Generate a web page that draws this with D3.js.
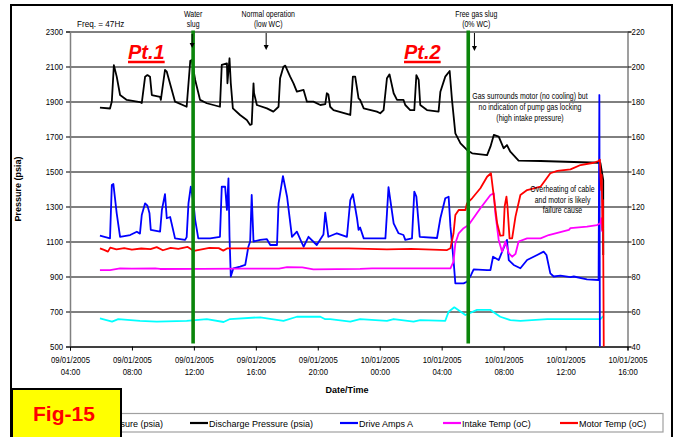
<!DOCTYPE html>
<html>
<head>
<meta charset="utf-8">
<script src="https://cdn.jsdelivr.net/npm/d3@7"></script>
<style>
  body { margin: 0; background: #fff; }
  svg text { font-family: "Liberation Sans", Arial, sans-serif; }
</style>
</head>
<body>
<svg id="chart" width="678" height="437"></svg>
<script>
// time is given in hours counted from 09/01/2005 00:00
const seriesNames = ['Intake Pressure (psia)', 'Discharge Pressure (psia)', 'Drive Amps A', 'Intake Temp (oC)', 'Motor Temp (oC)'];
const seriesColors = ['#00ffff', '#000000', '#0000ff', '#ff00ff', '#ff0000'];

const intakePressure = [[5.94,661],[6.71,642],[7.12,656],[8.52,646],[9.60,642],[11.54,646],[12.83,656],[13.91,640],[14.34,657],[16.28,667],[17.79,646],[18.65,670],[20.16,670],[20.48,656],[20.80,656],[22.10,642],[22.74,657],[24.47,646],[24.90,657],[26.19,642],[26.62,651],[28.24,647],[28.45,699],[28.82,724],[29.53,680],[30.29,709],[31.15,709],[31.79,670],[32.44,651],[33.08,647],[34.81,657],[38.25,657],[38.43,674]];

const dischargePressure = [[5.94,1865],[6.59,1860],[6.70,1900],[6.84,2108],[7.02,2042],[7.23,1937],[7.66,1909],[8.52,1897],[8.63,1891],[8.85,2042],[9.00,2051],[9.17,2042],[9.28,1937],[9.82,1927],[9.86,1909],[10.14,2080],[10.25,2070],[10.79,1899],[11.54,1870],[11.76,2133],[11.87,2137],[12.08,2023],[12.40,1909],[12.83,1890],[13.69,1870],[13.80,2109],[14.13,2118],[14.17,2004],[14.30,2147],[14.39,2004],[14.52,1861],[14.99,1823],[15.42,1794],[15.63,1766],[15.74,1770],[15.85,2004],[15.89,1949],[16.07,1880],[16.71,1861],[17.14,1842],[17.46,1870],[17.57,2033],[17.79,2099],[17.90,2105],[18.22,2042],[18.43,2004],[18.65,1956],[19.08,1966],[19.30,1899],[19.72,1899],[20.16,1880],[20.48,1885],[20.59,1947],[20.69,1940],[20.80,1870],[21.02,1851],[22.10,1823],[22.27,2042],[22.42,2042],[22.63,1918],[22.74,1909],[22.96,1861],[23.82,1842],[24.04,1833],[24.25,1851],[24.47,2033],[24.64,2055],[24.90,1947],[25.12,1909],[25.54,1909],[25.65,1880],[25.97,1851],[26.23,1851],[26.36,2051],[26.51,2023],[26.62,1880],[27.05,1851],[27.80,1842],[27.91,1956],[28.24,2042],[28.51,2074],[28.67,1909],[28.88,1718],[29.21,1661],[29.64,1623],[29.96,1604],[30.93,1594],[31.15,1642],[31.36,1709],[31.68,1699],[32.00,1633],[32.22,1651],[32.44,1613],[32.97,1562],[34.38,1560],[38.14,1550],[38.25,1549],[38.43,1451],[38.44,1023]];

const driveAmps = [[5.94,103.3],[6.59,101.8],[6.70,132.3],[6.80,132.9],[7.02,116.1],[7.23,102.7],[7.88,103.7],[8.31,105.6],[8.52,104.5],[8.63,115.1],[8.85,121.8],[9.00,120.5],[9.13,116.1],[9.22,106.6],[9.82,105.6],[9.93,118],[10.14,127.1],[10.25,113.3],[10.46,114],[10.79,101.8],[11.43,100.9],[11.54,102.5],[11.65,121.8],[11.80,131.3],[11.97,122.7],[12.08,112.3],[12.29,101.8],[13.05,101.8],[13.69,102.7],[13.80,131.3],[14.02,131.3],[14.13,118],[14.23,136.1],[14.30,102.7],[14.39,80],[14.55,84.7],[14.99,85.6],[15.31,86.6],[15.52,97],[15.63,100],[15.74,126.6],[15.85,100],[16.28,100.9],[16.71,101.3],[16.93,98],[17.36,98],[17.46,121.8],[17.75,137.4],[18.01,125.6],[18.33,102.7],[18.65,105.6],[19.08,97],[19.40,102.7],[19.94,98],[20.37,104],[20.48,116.5],[20.69,102.7],[21.24,104.7],[21.88,102.7],[22.10,123.7],[22.27,127.1],[22.53,113.3],[22.63,106.6],[22.74,108],[22.96,101.8],[24.36,101.8],[24.47,116.1],[24.57,131],[24.90,110.4],[25.22,104.7],[25.54,103.7],[25.65,100.9],[26.08,101.8],[26.23,128.5],[26.36,125.6],[26.58,102.7],[27.70,102],[27.91,113.3],[28.24,124.7],[28.45,125.6],[28.56,108.5],[28.77,89.4],[28.88,76.1],[29.42,76.1],[29.64,77],[29.90,80.9],[30.07,84.1],[30.93,83.7],[31.15,83.7],[31.32,91.3],[31.68,89.4],[32.22,100.9],[32.33,89.4],[32.65,86.6],[33.08,84.7],[33.52,89.4],[34.16,92.3],[34.59,94.2],[34.76,92.3],[35.02,81.8],[35.24,80],[35.67,80.5],[36.32,79.6],[36.53,80],[37.39,78.4],[38.14,78],[38.18,183.7],[38.21,40]];

const intakeTemp = [[5.94,83.7],[6.59,83.7],[7.23,84.7],[8.00,84.5],[9.50,84.7],[9.82,84.3],[12.50,84.4],[15.00,84.5],[17.50,84.5],[18.01,85.3],[19.00,85.2],[19.72,84.1],[22.74,84.3],[23.50,84.7],[28.56,84.7],[28.77,88.5],[28.88,99],[29.10,104.7],[29.42,107.6],[29.74,109.4],[29.96,112.3],[30.50,119],[31.15,126.6],[31.36,127.5],[31.47,116.1],[31.68,100.9],[31.90,94.2],[32.11,100],[32.33,93.3],[32.55,91.3],[32.76,92.9],[32.97,100],[33.52,101.8],[34.38,101.8],[34.91,103.7],[35.78,105.6],[36.21,106.6],[36.32,107.6],[37.39,108.5],[38.04,109.4],[38.25,110.4],[38.30,113.3],[38.36,105.6]];

const motorTemp = [[5.94,96.1],[6.20,95.2],[6.45,94.2],[6.60,96.5],[7.00,95.5],[7.50,96.2],[8.00,95.3],[8.60,96.0],[9.20,95.6],[9.60,96.8],[10.00,95.0],[10.50,96.4],[11.00,95.8],[11.60,96.9],[12.00,94.6],[12.50,95.5],[13.00,96.4],[13.60,96.2],[13.90,94.8],[14.17,96.1],[22.00,96.1],[24.47,95.5],[26.00,95.8],[28.35,95.1],[28.56,96.1],[28.77,104.7],[28.88,115.1],[29.10,118],[29.53,118],[29.64,121.8],[29.96,124.7],[30.50,130.4],[30.93,137],[31.19,139],[31.32,129.4],[31.58,110.4],[31.79,103.3],[31.98,103.5],[32.07,120],[32.18,125.6],[32.25,120],[32.39,101.8],[32.55,101.8],[32.76,114.2],[33.08,126.6],[33.52,129.4],[34.38,131.3],[35.02,139],[35.46,140.3],[36.32,141.2],[36.96,143.7],[37.82,145],[38.14,146],[38.21,146.8],[38.30,129.4],[38.34,138],[38.38,106.6],[38.42,123.7],[38.47,40]];

const pressureTicks = [500, 700, 900, 1100, 1300, 1500, 1700, 1900, 2100, 2300];
const rightTicks = [40, 60, 80, 100, 120, 140, 160, 180, 200, 220];
const eventHours = [11.95, 29.72];   // water slug, free gas slug

const t0 = new Date(2005, 0, 9);
const hour = h => d3.timeMinute.offset(t0, Math.round(h * 60));

const svg = d3.select('#chart');
const plot = { left: 70, right: 627.5, top: 31.5, bottom: 346.5 };
const SQ = 0.82; // horizontal squeeze, the source uses a narrow face

const x = d3.scaleTime().domain([hour(4), hour(40)]).range([plot.left, plot.right]);
const yL = d3.scaleLinear().domain([500, 2300]).range([plot.bottom, plot.top]);
const yR = d3.scaleLinear().domain([40, 220]).range([plot.bottom, plot.top]);

svg.append('rect').attr('width', 678).attr('height', 437).attr('fill', '#fff');
svg.append('rect').attr('x', 11).attr('y', 5).attr('width', 661).attr('height', 440)
  .attr('fill', 'none').attr('stroke', '#000').attr('stroke-width', 2);

// grid
svg.append('g').attr('transform', `translate(${plot.left},0)`)
  .call(d3.axisLeft(yL).tickValues(pressureTicks).tickSize(-(plot.right - plot.left)).tickFormat(''))
  .call(g => g.select('.domain').remove())
  .call(g => g.selectAll('line').attr('stroke', '#000').attr('stroke-width', 1));

// left axis
svg.append('g').attr('transform', `translate(${plot.left},0)`)
  .call(d3.axisLeft(yL).tickValues(pressureTicks).tickSize(4).tickPadding(4.5).tickFormat(d3.format('d')))
  .call(g => g.select('.domain').attr('stroke', '#808080').attr('stroke-width', 1.5))
  .call(g => g.selectAll('text').attr('font-size', 9.5).attr('fill', '#000')
    .attr('transform', `scale(${SQ},1)`));

// right axis
svg.append('g').attr('transform', `translate(${plot.right},0)`)
  .call(d3.axisRight(yR).tickValues(rightTicks).tickSize(4).tickPadding(1))
  .call(g => g.select('.domain').attr('stroke', '#808080').attr('stroke-width', 1.5))
  .call(g => g.selectAll('text').attr('font-size', 9.5).attr('fill', '#000')
    .attr('transform', `scale(${SQ},1)`));

// bottom axis
const xTicks = d3.timeHour.every(4).range(hour(4), hour(40.1));
const fmtDate = d3.timeFormat('%d/%m/%Y'), fmtTime = d3.timeFormat('%H:%M');
svg.append('g').attr('transform', `translate(0,${plot.bottom})`)
  .call(d3.axisBottom(x).tickValues(xTicks).tickSize(4).tickFormat(''))
  .call(g => g.select('.domain').attr('stroke', '#000'))
  .call(g => g.selectAll('.tick').append('text')
    .attr('font-size', 9.5).attr('fill', '#000').attr('text-anchor', 'middle')
    .attr('transform', `scale(${SQ},1)`)
    .each(function (d) {
      const t = d3.select(this);
      t.append('tspan').attr('x', 0).attr('y', 17).text(fmtDate(d));
      t.append('tspan').attr('x', 0).attr('y', 29).text(fmtTime(d));
    }));

// series
const lineL = d3.line().x(d => x(hour(d[0]))).y(d => yL(d[1]));
const lineR = d3.line().x(d => x(hour(d[0]))).y(d => yR(d[1]));
const series = [
  { data: intakePressure, line: lineL },
  { data: dischargePressure, line: lineL },
  { data: driveAmps, line: lineR },
  { data: intakeTemp, line: lineR },
  { data: motorTemp, line: lineR }
];
series.forEach((s, i) => {
  svg.append('path').attr('d', s.line(s.data)).attr('fill', 'none')
    .attr('stroke', seriesColors[i]).attr('stroke-width', 1.8)
    .attr('stroke-linejoin', 'round');
});

// event markers
eventHours.forEach(h => {
  svg.append('line').attr('x1', x(hour(h))).attr('x2', x(hour(h)))
    .attr('y1', plot.top - 1).attr('y2', plot.bottom - 3)
    .attr('stroke', '#0a850a').attr('stroke-width', 3.6);
});

// annotations
function note(cx, ys, lines, size) {
  lines.forEach((l, i) => svg.append('text')
    .attr('transform', `translate(${cx},${ys[i]}) scale(${SQ},1)`)
    .attr('font-size', size || 8.5).attr('text-anchor', 'middle').attr('fill', '#000').text(l));
}
function arrow(cx, y1, y2) {
  svg.append('line').attr('x1', cx).attr('x2', cx).attr('y1', y1).attr('y2', y2 - 4)
    .attr('stroke', '#000').attr('stroke-width', 1);
  svg.append('path').attr('d', `M${cx - 2.5},${y2 - 5}L${cx + 2.5},${y2 - 5}L${cx},${y2}Z`).attr('fill', '#000');
}
svg.append('text').attr('transform', `translate(77,27) scale(0.86,1)`).attr('font-size', 9.5).text('Freq. = 47Hz');
note(x(hour(11.95)), [16.5, 27], ['Water', 'slug']);
note(x(hour(16.80)), [16.5, 27], ['Normal operation', '(low WC)']);
note(x(hour(30.24)), [16.5, 27], ['Free gas slug', '(0% WC)']);
arrow(x(hour(11.95)) - 1, 34, 48);
arrow(x(hour(16.67)), 33, 50);
arrow(x(hour(30.11)), 33, 51);
note(530, [99, 110, 121], ['Gas surrounds motor (no cooling) but', 'no indication of pump gas locking', '(high intake pressure)']);
note(562.5, [192, 202.5, 213], ['Overheating of cable', 'and motor is likely', 'failure cause']);

// Pt labels
[['Pt.1', 128], ['Pt.2', 404]].forEach(([label, px]) => {
  const t = svg.append('text').attr('x', px).attr('y', 58.5).attr('font-size', 20)
    .attr('font-weight', 'bold').attr('font-style', 'italic').attr('fill', '#ff0000').text(label);
  const w = t.node().getComputedTextLength();
  svg.append('line').attr('x1', px).attr('x2', px + w).attr('y1', 62).attr('y2', 62)
    .attr('stroke', '#ff0000').attr('stroke-width', 2.5);
});

// axis titles
svg.append('text').attr('x', 347).attr('y', 393).attr('text-anchor', 'middle')
  .attr('font-size', 9).attr('font-weight', 'bold').text('Date/Time');
svg.append('text').attr('transform', 'translate(21,189) rotate(-90)').attr('text-anchor', 'middle')
  .attr('font-size', 9).attr('font-weight', 'bold').text('Pressure (psia)');

// legend
svg.append('rect').attr('x', 45).attr('y', 413.5).attr('width', 618).attr('height', 18.5)
  .attr('fill', '#fff').attr('stroke', '#a0a0a0').attr('stroke-width', 1.2);
const legendX = [56, 190, 340, 443, 560];
seriesNames.forEach((name, i) => {
  svg.append('line').attr('x1', legendX[i]).attr('x2', legendX[i] + 18).attr('y1', 423).attr('y2', 423)
    .attr('stroke', seriesColors[i]).attr('stroke-width', 2.2);
  svg.append('text').attr('x', legendX[i] + 19).attr('y', 426.5).attr('font-size', 9).text(name);
});

// figure tag
svg.append('rect').attr('x', 12).attr('y', 389).attr('width', 109).attr('height', 60)
  .attr('fill', '#ffff00').attr('stroke', '#000').attr('stroke-width', 2);
svg.append('text').attr('x', 33).attr('y', 420.5).attr('font-size', 21).attr('font-weight', 'bold')
  .attr('fill', '#ff0000').text('Fig-15');
</script>
</body>
</html>
